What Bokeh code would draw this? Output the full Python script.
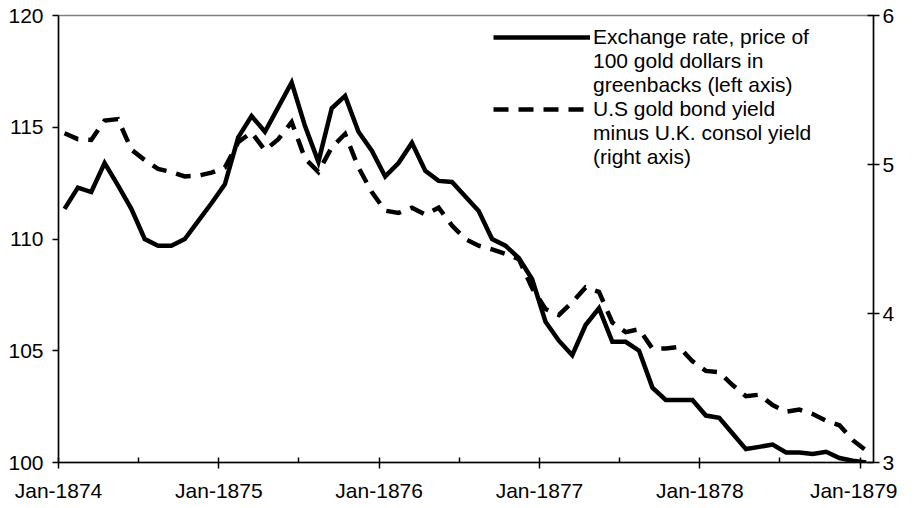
from bokeh.plotting import figure
from bokeh.models import Range1d, LinearAxis, FixedTicker, Legend, LegendItem, ColumnDataSource
from bokeh.embed import file_html
from bokeh.resources import INLINE

# Monthly observations, Jan-1874 .. Jan-1879 (dated mid-month)
years = [1874, 1875, 1876, 1877, 1878]
month_labels = [f"{y}-{m:02d}" for y in years for m in range(1, 13)] + ["1879-01"]

exchange_rate = [
    111.35, 112.3, 112.1, 113.4, 112.4, 111.35, 110.0, 109.7, 109.7, 110.0, 110.8, 111.6,
    112.45, 114.55, 115.5, 114.8, 115.9, 117.0, 115.05, 113.45, 115.85, 116.4, 114.8, 113.95,
    112.8, 113.4, 114.3, 113.05, 112.6, 112.55, 111.9, 111.25, 110.0, 109.7, 109.15, 108.2,
    106.3, 105.45, 104.8, 106.15, 106.9, 105.4, 105.4, 105.0, 103.35, 102.8, 102.8, 102.8,
    102.1, 102.0, 101.3, 100.6, 100.7, 100.8, 100.45, 100.45, 100.38, 100.48, 100.2, 100.08,
    100.0,
]
yield_spread = [
    5.21, 5.17, 5.165, 5.295, 5.305, 5.1, 5.03, 4.97, 4.95, 4.92, 4.925, 4.945,
    4.98, 5.15, 5.215, 5.095, 5.17, 5.285, 5.04, 4.95, 5.115, 5.205, 4.98, 4.815,
    4.69, 4.675, 4.71, 4.665, 4.71, 4.59, 4.5, 4.455, 4.43, 4.4, 4.365, 4.17,
    4.03, 3.99, 4.075, 4.175, 4.145, 3.94, 3.875, 3.895, 3.765, 3.765, 3.775, 3.68,
    3.615, 3.605, 3.52, 3.445, 3.455, 3.385, 3.34, 3.355, 3.325, 3.28, 3.25, 3.15,
    3.08,
]

x_tick_labels = ["Jan-1874", "Jan-1875", "Jan-1876", "Jan-1877", "Jan-1878", "Jan-1879"]
left_ticks = [100, 105, 110, 115, 120]
right_ticks = [3, 4, 5, 6]

# legend text: first line sits beside the line sample, the rest continues below
legend_lines = [
    ["Exchange rate, price of", "100 gold dollars in\ngreenbacks (left axis)"],
    ["U.S gold bond yield", "minus U.K. consol yield\n(right axis)"],
]

# month index (0 = Jan-1874), observation dated on the 15th
def month_index(s):
    y, m = s.split("-")
    return (int(y) - 1874) * 12 + int(m) - 1 + 14 / 31

xs = [month_index(s) for s in month_labels]
src = ColumnDataSource(dict(x=xs, fx=exchange_rate, spread=yield_spread))

FONT = "Liberation Sans"
FS = "21px"

p = figure(
    frame_width=815, frame_height=447,
    output_backend="svg", toolbar_location=None,
    x_range=Range1d(0, 61), y_range=Range1d(100, 120),
    min_border_left=58, min_border_right=5, min_border_top=15, min_border_bottom=5,
    background_fill_color="white", border_fill_color="white",
)
p.extra_y_ranges = {"right": Range1d(3, 6)}
p.xgrid.visible = False
p.ygrid.visible = False
p.outline_line_color = "#808080"
p.outline_line_width = 1.5

major_x = [i * 12 for i in range(len(x_tick_labels))]
minor_x = [i * 12 + 6 for i in range(len(x_tick_labels) - 1)]
p.xaxis.ticker = FixedTicker(ticks=major_x, minor_ticks=minor_x)
p.xaxis.major_label_overrides = {t: lab for t, lab in zip(major_x, x_tick_labels)}
p.yaxis.ticker = FixedTicker(ticks=left_ticks)

right_axis = LinearAxis(y_range_name="right", ticker=FixedTicker(ticks=right_ticks))
p.add_layout(right_axis, "right")

for ax in [p.xaxis[0], p.yaxis[0], right_axis]:
    ax.axis_line_color = "black"
    ax.axis_line_width = 1.5
    ax.major_tick_line_color = "black"
    ax.major_tick_line_width = 1.5
    ax.minor_tick_line_color = None
    ax.major_label_text_font = FONT
    ax.major_label_text_font_size = FS
    ax.major_label_text_color = "black"

p.yaxis[0].major_tick_out = 6
p.yaxis[0].major_tick_in = 0
p.yaxis[0].major_label_standoff = 9
right_axis.major_tick_out = 6
right_axis.major_tick_in = 6
right_axis.major_label_standoff = 3
p.xaxis[0].major_tick_out = 6
p.xaxis[0].major_tick_in = 5
p.xaxis[0].minor_tick_in = 5
p.xaxis[0].minor_tick_out = 0
p.xaxis[0].minor_tick_line_color = "black"
p.xaxis[0].minor_tick_line_width = 1.5
p.xaxis[0].major_label_standoff = 10

r1 = p.line("x", "fx", source=src, line_color="black", line_width=4.5, line_join="miter")
r2 = p.line("x", "spread", source=src, y_range_name="right", line_color="black",
            line_width=4.5, line_dash="15 10", line_join="miter")
# invisible sample for continuation lines of the legend labels
blank = p.line(x=[], y=[], line_alpha=0)

items = []
for (first, rest), r in zip(legend_lines, [r1, r2]):
    items.append(LegendItem(label=first, renderers=[r]))
    items.append(LegendItem(label=rest, renderers=[blank]))

LH = 1.16
legend_h = 6 * 21 * LH
legend = Legend(
    items=items,
    location=(435, 447 - 8 - legend_h),
    padding=0, margin=0, spacing=0,
    glyph_width=97, glyph_height=16, label_standoff=3, label_height=16,
    label_text_font=FONT, label_text_font_size=FS, label_text_color="black",
    label_text_line_height=LH,
    border_line_alpha=0, background_fill_alpha=0,
)
p.add_layout(legend)

open("out.html", "w").write(file_html(p, INLINE))
